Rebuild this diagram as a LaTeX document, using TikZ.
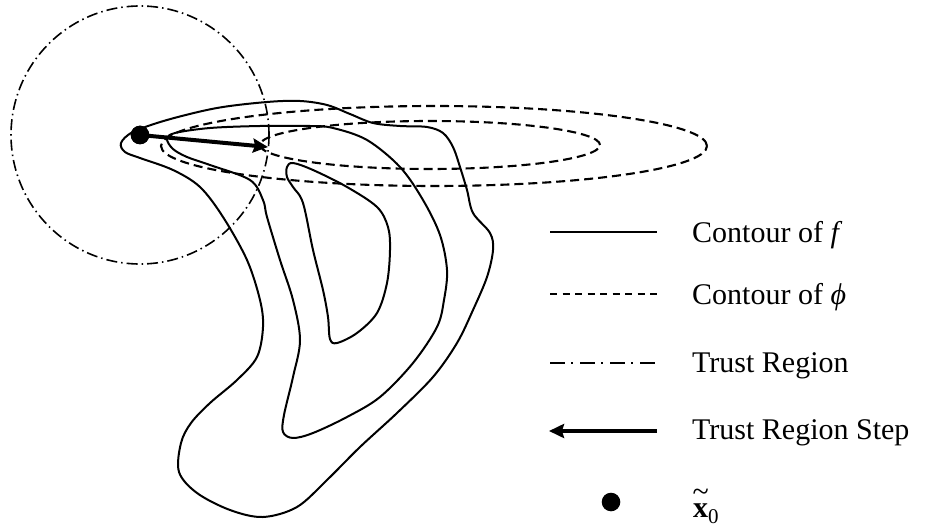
\documentclass[tikz,border=0pt]{standalone}
\usepackage{fontspec}
\setmainfont{Liberation Serif}
\usetikzlibrary{arrows.meta}
\begin{document}
\begin{tikzpicture}[x=1pt,y=-1pt,
  contour/.style={line width=2pt, line join=round},
  phicontour/.style={line width=2.1pt, dash pattern=on 9pt off 5pt},
  legphi/.style={line width=1.4pt, dash pattern=on 7pt off 5.5pt},
  trust/.style={line width=1.6pt, dash pattern=on 11pt off 4pt on 1.5pt off 4pt},
  legtrust/.style={line width=1.8pt, dash pattern=on 15pt off 6pt on 2pt off 7pt},
  stepline/.style={line width=4pt, -{Stealth[length=15pt,width=14pt,inset=2pt]}},
  dotnode/.style={circle, fill, inner sep=0pt, minimum size=18.6pt},
  legtext/.style={anchor=base west, inner sep=0pt, font=\fontsize{30}{36}\selectfont}
]
\useasboundingbox (0,0) rectangle (928,526);

% trust region and model contours
\node[dotnode] (x0) at (140,135) {};
\coordinate (tip) at (268,147);
\draw[trust] (x0.center) circle[radius=129pt];
\draw[phicontour] (430,145) ellipse [x radius=170pt, y radius=24pt];
\draw[phicontour] (434,146) ellipse [x radius=273pt, y radius=40pt];

% contours of f
\draw[contour] plot[smooth cycle, tension=0.55] coordinates {
 (121,143) (133,132) (167,120) (217,108) (267,102) (300,101) (327,105)
 (350,114) (373,123) (400,126) (427,127) (443,133) (453,147) (460,167)
 (467,190) (473,213) (490,233) (493,250) (487,277) (473,310) (457,343)
 (433,377) (397,413) (360,447) (327,480) (297,507) (263,517) (230,510)
 (197,493) (179,472) (181,443) (191,423) (210,403) (237,380) (257,357)
 (263,327) (260,300) (247,260) (223,217) (200,187) (173,170) (140,158)
 (125,152)};
\draw[contour] plot[smooth cycle, tension=0.55] coordinates {
 (167,139) (175,133) (210,128) (260,126) (310,126) (333,128) (367,140)
 (400,167) (423,200) (440,235) (447,270) (444,300) (437,327) (413,363)
 (380,397) (347,417) (313,433) (293,438) (283,432) (284,415) (293,377)
 (300,340) (293,300) (280,260) (267,217) (263,200) (250,180) (210,165)
 (187,157) (173,149)};
\draw[contour] plot[smooth cycle, tension=0.55] coordinates {
 (287,167) (293,163) (313,170) (347,187) (377,207) (388,227) (390,250)
 (387,283) (377,313) (357,333) (337,343) (330,339) (328,317) (323,290)
 (313,250) (303,203) (293,187) (287,177)};

% trust region step
\draw[stepline] (x0.center) -- (tip);
\node[dotnode] at (x0) {};

% legend
\coordinate (l1a) at (550,232); \coordinate (l1b) at (657,232);
\coordinate (l2a) at (550,294); \coordinate (l2b) at (657,294);
\coordinate (l3a) at (550,363); \coordinate (l3b) at (657,363);
\coordinate (l4a) at (549,431); \coordinate (l4b) at (657,431);
\draw[line width=2pt] (l1a) -- (l1b);
\draw[legphi] (l2a) -- (l2b);
\draw[legtrust] (l3a) -- (l3b);
\draw[stepline] (l4b) -- (l4a);
\node[dotnode] (ldot) at (611,502) {};
\node[legtext] (t1) at (692,243) {Contour of \textit{f}};
\node[legtext] (t2) at (692,305) {Contour of \textit{ϕ}};
\node[legtext] (t3) at (692,372) {Trust Region};
\node[legtext] (t4) at (692,439) {Trust Region Step};
\node[legtext] (t5) at (693,517) {\ooalign{\textbf{x}\cr\hidewidth\raisebox{16pt}{\textasciitilde}\hidewidth\cr}\raisebox{-6pt}{\fontsize{21}{24}\selectfont 0}};
\end{tikzpicture}
\end{document}
